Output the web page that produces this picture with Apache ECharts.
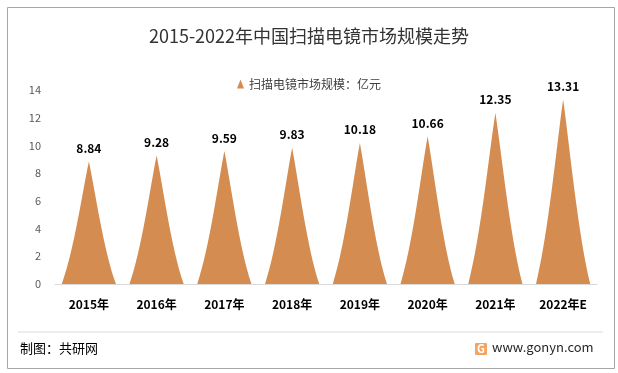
<!DOCTYPE html>
<html><head><meta charset="utf-8">
<script src="https://cdn.jsdelivr.net/npm/echarts@6/dist/echarts.min.js"></script>
<style>html,body{margin:0;padding:0;background:#fff}#c{width:618px;height:373px}</style>
</head><body><div id="c"></div>
<script>
var categories = ['2015年','2016年','2017年','2018年','2019年','2020年','2021年','2022年E'];
var values = [8.84, 9.28, 9.59, 9.83, 10.18, 10.66, 12.35, 13.31];
var seriesName = '扫描电镜市场规模：亿元';
var titleText = '2015-2022年中国扫描电镜市场规模走势';
var FONT = '"Noto Sans CJK SC", "Noto Sans", sans-serif';
var chart = echarts.init(document.getElementById('c'));
chart.setOption({
  animation: false,
  textStyle: {fontFamily: FONT},
  title: {text: titleText, left: 'center', top: 22, textStyle: {fontSize: 18, fontWeight: 'normal', color: '#333', fontFamily: FONT}},
  legend: {data: [seriesName], top: 73, left: 'center', icon: 'triangle', itemWidth: 7, itemHeight: 9, itemGap: 4,
    textStyle: {fontSize: 12, color: '#404040', fontFamily: FONT}},
  grid: {left: 55, right: 21, top: 90, bottom: 89},
  xAxis: {type: 'category', data: categories,
    axisLine: {lineStyle: {color: '#d9d9d9'}}, axisTick: {show: false},
    axisLabel: {fontSize: 12, fontWeight: 'bold', color: '#000', margin: 14, fontFamily: FONT}},
  yAxis: {type: 'value', min: 0, max: 14, interval: 2, splitLine: {show: false},
    axisLine: {show: false}, axisTick: {show: false},
    axisLabel: {fontSize: 11, color: '#595959', margin: 14}},
  series: [{
    name: seriesName, type: 'pictorialBar', data: values,
    barCategoryGap: '20%',
    symbol: 'path://M0,10 C2.3,7.2 3.8,2.5 5,0 C6.2,2.5 7.7,7.2 10,10 z',
    itemStyle: {color: '#D48C50'},
    label: {show: true, position: 'top', distance: 7, fontSize: 12, fontWeight: 'bold', color: '#000', fontFamily: FONT}
  }],
  graphic: [
    {type: 'rect', left: 5, top: 5, shape: {width: 607, height: 361}, style: {fill: 'none', stroke: '#a6a6a6', lineWidth: 1}, silent: true},
    {type: 'line', shape: {x1: 18, y1: 332, x2: 603, y2: 332}, style: {stroke: '#d9d9d9', lineWidth: 1}},
    {type: 'text', left: 20, top: 342, style: {text: '制图：共研网', fontSize: 13, fill: '#000', fontFamily: FONT}},
    {type: 'rect', shape: {x: 475, y: 343, width: 12, height: 12, r: 1}, style: {fill: '#F4A460'}},
    {type: 'text', left: 477, top: 343, style: {text: 'G', fontSize: 11, fontWeight: 'bold', fill: '#fff', fontFamily: FONT}},
    {type: 'text', left: 492, top: 341, style: {text: 'www.gonyn.com', fontSize: 13, fill: '#262626', fontFamily: FONT}}
  ]
});
</script></body></html>
